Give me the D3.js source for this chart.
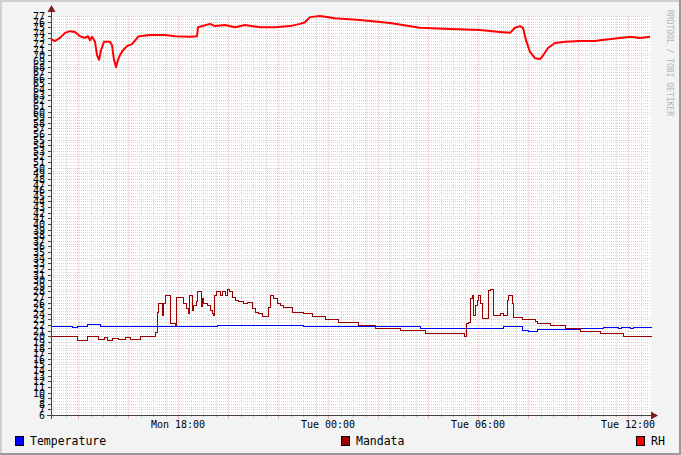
<!DOCTYPE html>
<html><head><meta charset="utf-8">
<script src="https://cdn.jsdelivr.net/npm/d3@7"></script>
<style>body{margin:0;background:#f3f3f3}svg{display:block}</style>
</head><body>
<script>
// Hours since Mon 00:00
const rhHours = [12.92,13.08,13.28,13.48,13.68,13.88,14.08,14.28,14.40,14.48,14.56,14.68,14.76,14.84,14.92,15.04,15.28,15.36,15.44,15.52,15.60,15.68,15.80,15.96,16.16,16.40,16.48,16.88,17.48,17.88,18.48,18.76,18.80,19.28,19.48,19.88,20.28,20.68,21.28,21.88,22.48,22.88,23.08,23.28,23.68,24.28,25.28,26.48,27.68,28.88,30.08,30.88,31.28,31.48,31.68,31.80,31.92,32.08,32.28,32.48,32.56,32.80,33.08,33.48,34.08,34.68,34.88,35.68,36.08,36.48,36.88];
const rhValues = [72.9,72.55,73.1,74.0,74.3,74.15,73.4,73.1,73.4,72.7,73.3,72.4,70.05,69.2,70.9,72.4,72.4,71.8,69.2,67.9,69.2,70.05,70.9,71.65,72.0,73.3,73.4,73.6,73.6,73.4,73.3,73.4,75.0,75.6,75.2,75.4,75.0,75.4,75.0,75.0,75.2,75.6,75.9,76.8,77.0,76.6,76.3,75.75,74.9,74.7,74.5,74.15,74.0,74.9,75.2,74.9,72.7,70.6,69.5,69.35,69.7,71.3,72.2,72.4,72.55,72.55,72.7,73.1,73.3,73.1,73.3];

const tempHours = [12.92,13.76,13.96,14.36,14.88,17.08,19.16,19.56,23.00,27.68,31.00,31.76,32.00,32.36,34.08,34.9,35.0,35.6,35.7,36.1,36.2,36.92];
const tempValues = [21.8,21.65,21.9,22.2,21.9,21.85,21.75,21.95,21.75,21.55,21.8,21.1,20.95,21.35,21.55,21.4,21.6,21.45,21.65,21.5,21.65,21.65];

const manHours = [12.92,13.96,14.36,14.80,15.04,15.16,15.36,15.60,15.88,16.08,16.48,17.08,17.16,17.20,17.36,17.40,17.48,17.68,17.88,17.92,18.20,18.32,18.40,18.44,18.56,18.60,18.72,18.76,18.92,18.96,19.00,19.16,19.28,19.36,19.40,19.44,19.52,19.68,19.76,19.88,19.96,20.04,20.16,20.28,20.40,20.60,20.76,20.96,21.08,21.20,21.36,21.60,21.68,21.80,21.96,22.08,22.20,22.56,23.00,23.36,23.88,24.40,25.20,25.88,26.88,27.88,29.44,29.52,29.60,29.68,29.76,29.80,29.88,29.96,30.00,30.08,30.16,30.40,30.48,30.60,30.88,30.96,31.00,31.16,31.20,31.36,31.40,31.76,32.28,32.36,32.88,33.48,34.08,34.88,35.80,36.92];
const manValues = [20.05,19.3,20.05,19.5,19.8,19.4,19.7,19.5,19.8,19.6,20.05,20.8,24.4,26.0,23.8,26.0,27.4,22.4,22.0,27.0,26.0,25.0,24.1,27.4,24.7,25.6,26.2,28.0,25.4,26.8,26.0,25.6,24.7,24.1,23.8,27.4,28.0,27.4,28.0,27.4,28.5,28.0,27.0,26.5,26.2,26.0,26.1,25.0,24.4,24.1,23.6,25.3,27.4,26.8,26.0,25.6,25.2,24.4,24.1,23.7,23.1,22.5,22.0,21.5,21.2,20.65,20.0,22.3,22.6,26.8,27.4,23.8,25.6,26.5,27.4,26.0,23.2,28.2,28.5,23.8,24.1,24.2,23.8,26.5,27.4,26.0,23.5,23.0,22.7,22.4,22.0,21.4,20.95,20.65,20.05,20.05];

const seriesNames = ["Temperature","Mandata","RH"];
const seriesColors = ["#0000ff","#9a0000","#ff0000"];
const yMin = 6, yMax = 77;
const startHour = 12.92, endHour = 36.92;

const W = 681, H = 455;
const base = new Date(2021, 2, 1, 0, 0, 0); // Monday
const toDate = h => new Date(base.getTime() + h * 3600e3);

const svg = d3.select("body").append("svg").attr("width", W).attr("height", H)
  .style("font-family", "'DejaVu Sans Mono', monospace");

// frame
svg.append("rect").attr("width", W).attr("height", H).attr("fill", "#f3f3f3");
svg.append("line").attr("x1",0).attr("x2",W).attr("y1",1).attr("y2",1).attr("stroke","#cfcfcf").attr("stroke-width",2);
svg.append("line").attr("x1",1).attr("x2",1).attr("y1",0).attr("y2",H).attr("stroke","#cfcfcf").attr("stroke-width",2);
svg.append("line").attr("x1",W-1).attr("x2",W-1).attr("y1",0).attr("y2",H).attr("stroke","#9a9a9a").attr("stroke-width",2);
svg.append("line").attr("x1",0).attr("x2",W).attr("y1",H-1).attr("y2",H-1).attr("stroke","#9a9a9a").attr("stroke-width",2);

const x = d3.scaleTime().domain([toDate(startHour), toDate(endHour)]).range([51, 651]);
const y = d3.scaleLinear().domain([yMin, yMax]).range([415, 16]);

svg.append("rect").attr("x", 51).attr("y", 16).attr("width", 600).attr("height", 399).attr("fill", "#fff");

const g = svg.append("g");
// horizontal grid
d3.range(yMin, yMax + 0.01, 0.5).forEach(v => {
  const major = Math.abs(v - Math.round(v)) < 1e-6;
  const yy = Math.round(y(v)) + 0.5;
  g.append("line").attr("x1", 51).attr("x2", 651).attr("y1", yy).attr("y2", yy)
    .attr("stroke", major ? "#ecc4c4" : "#d8d8d8").attr("stroke-dasharray", "1,1");
});
// vertical grid
x.ticks(d3.timeMinute.every(30)).forEach(t => {
  const major = t.getMinutes() === 0 && t.getHours() % 2 === 0;
  const xx = Math.round(x(t)) + 0.5;
  g.append("line").attr("x1", xx).attr("x2", xx).attr("y1", 16).attr("y2", 415)
    .attr("stroke", major ? "#eec6c6" : "#d8d8d8").attr("stroke-dasharray", "1,1");
  svg.append("line").attr("x1", xx).attr("x2", xx).attr("y1", 415).attr("y2", major ? 419 : 417)
    .attr("stroke", major ? "#e6b4b4" : "#bbbbbb");
});

// series lines
const mk = (hs, vs) => hs.map((h, i) => ({t: toDate(h), v: vs[i]}));
const stepLine = d3.line().x(d => Math.round(x(d.t)) + 0.5).y(d => Math.round(y(d.v)) + 0.5).curve(d3.curveStepAfter);
const rhLine = d3.line().x(d => x(d.t)).y(d => y(d.v));

svg.append("path").datum(mk(tempHours, tempValues)).attr("d", stepLine)
  .attr("fill", "none").attr("stroke", seriesColors[0]).attr("stroke-width", 1).attr("shape-rendering", "crispEdges");
svg.append("path").datum(mk(manHours, manValues)).attr("d", stepLine)
  .attr("fill", "none").attr("stroke", seriesColors[1]).attr("stroke-width", 1).attr("shape-rendering", "crispEdges");
svg.append("path").datum(mk(rhHours, rhValues)).attr("d", rhLine)
  .attr("fill", "none").attr("stroke", seriesColors[2]).attr("stroke-width", 2).attr("stroke-linejoin", "round");

// axes
svg.append("line").attr("x1", 47).attr("x2", 654).attr("y1", 415.5).attr("y2", 415.5).attr("stroke", "#444");
svg.append("line").attr("x1", 51.5).attr("x2", 51.5).attr("y1", 419).attr("y2", 12).attr("stroke", "#444");
svg.append("path").attr("d", "M651,411.5 L658,415.5 L651,419.5 Z").attr("fill", "#7f1f1f");
svg.append("path").attr("d", "M47.5,12 L51.5,5 L55.5,12 Z").attr("fill", "#7f1f1f");

// y ticks & labels
d3.range(yMin, yMax + 1).forEach(v => {
  const yy = Math.round(y(v)) + 0.5;
  svg.append("line").attr("x1", 48).attr("x2", 51).attr("y1", yy).attr("y2", yy).attr("stroke", "#444");
  svg.append("text").attr("x", 45).attr("y", yy + 3.5).attr("text-anchor", "end")
    .attr("font-size", 10).attr("fill", "#000").text(v);
});

// x labels
const fmt = d3.timeFormat("%a %H:%M");
x.ticks(d3.timeHour.every(6)).forEach(t => {
  svg.append("text").attr("x", x(t)).attr("y", 428).attr("text-anchor", "middle")
    .attr("font-size", 10).attr("fill", "#000").text(fmt(t));
});

// legend
const legX = [15, 341, 636];
seriesNames.forEach((n, i) => {
  svg.append("rect").attr("x", legX[i] + 0.5).attr("y", 436.5).attr("width", 8).attr("height", 9)
    .attr("fill", seriesColors[i]).attr("stroke", "#000");
  svg.append("text").attr("x", legX[i] + 15).attr("y", 445).attr("font-size", 11.5).attr("fill", "#000").text(n);
});

// watermark
svg.append("text").attr("transform", "translate(667,10) rotate(90)")
  .attr("font-size", 8).attr("fill", "#b4b4b4").text("RRDTOOL / TOBI OETIKER");
</script>
</body></html>
